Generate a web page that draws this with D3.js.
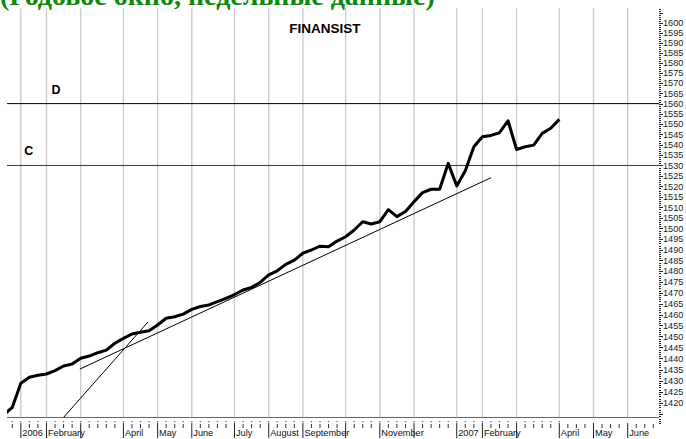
<!DOCTYPE html>
<html>
<head>
<meta charset="utf-8">
<script src="https://cdn.jsdelivr.net/npm/d3@7"></script>
<style>
  body { margin: 0; background: #fff; }
  svg { display: block; }
</style>
</head>
<body>
<svg id="chart"></svg>
<script>
// weekly closes, week 0 = first week shown (late Dec 2005)
var weeks = d3.range(-1, 65);
var closes = [
  1414.7, 1418.1, 1428.8, 1431.5, 1432.4, 1433.0, 1434.5, 1436.6, 1437.5, 1440.1,
  1441.1, 1442.6, 1443.8, 1446.9, 1449.1, 1451.1, 1451.9, 1452.6, 1455.2, 1458.3,
  1459.0, 1460.2, 1462.4, 1463.7, 1464.4, 1465.9, 1467.4, 1469.2, 1471.3, 1472.5,
  1474.8, 1478.3, 1480.2, 1483.2, 1485.2, 1488.4, 1489.9, 1491.7, 1491.4, 1494.1,
  1496.1, 1499.3, 1503.2, 1502.1, 1503.2, 1508.9, 1505.6, 1508.0, 1512.7, 1517.0,
  1518.6, 1518.6, 1531.0, 1520.2, 1527.5, 1539.0, 1543.8, 1544.5, 1545.8, 1551.6,
  1537.7, 1539.0, 1539.8, 1545.5, 1548.0, 1552.3
];

// month starts (week index) and their labels
var monthWeeks = [1, 4, 8, 13, 17, 21, 26, 30, 34, 39, 43, 47, 52, 55, 59, 64, 68, 72];
var monthLabels = ['2006', 'February', 'March', 'April', 'May', 'June', 'July', 'August',
  'September', 'October', 'November', 'December', '2007', 'February', 'March', 'April', 'May', 'June'];

// horizontal levels
var levels = [1560, 1530];
var levelNames = ['D', 'C'];

// trend lines: [week, value] -> [week, value]
var trends = [
  [[7.9, 1435.2], [56.0, 1524.1]],
  [[6.0, 1413.6], [15.9, 1456.7]]
];

var title = '(Годовое окно, недельные данные)';
var chartName = 'FINANSIST';

var width = 686, height = 439;
var plotL = 7, plotR = 659, plotT = 8, plotB = 417;

var svg = d3.select('#chart').attr('width', width).attr('height', height);

var x = d3.scaleLinear().domain([0, 75]).range([12.3, 12.3 + 75 * 8.547]);
var y = d3.scaleLog().domain([1420, 1600]).range([403, 23]);

svg.append('defs').append('clipPath').attr('id', 'plot')
  .append('rect')
  .attr('x', plotL).attr('y', plotT)
  .attr('width', plotR - plotL).attr('height', plotB - plotT);

// month grid
svg.append('g').selectAll('line')
  .data(monthWeeks)
  .join('line')
  .attr('x1', function(d) { return x(d); })
  .attr('x2', function(d) { return x(d); })
  .attr('y1', plotT).attr('y2', plotB)
  .attr('stroke', '#cccccc')
  .attr('stroke-width', 1.4);

// green heading (cut at top edge, as in the source)
svg.append('text')
  .attr('x', 0).attr('y', 5)
  .attr('font-family', '"Liberation Serif", "DejaVu Serif", serif')
  .attr('font-weight', 'bold')
  .attr('font-size', 28)
  .attr('fill', '#0a8a0a')
  .text(title);

svg.append('text')
  .attr('x', 325).attr('y', 33)
  .attr('text-anchor', 'middle')
  .attr('font-family', '"Liberation Sans", Arial, sans-serif')
  .attr('font-weight', 'bold')
  .attr('font-size', 13.5)
  .text(chartName);

// level lines
svg.append('g').selectAll('line')
  .data(levels)
  .join('line')
  .attr('x1', plotL).attr('x2', plotR)
  .attr('y1', function(d) { return y(d); })
  .attr('y2', function(d) { return y(d); })
  .attr('stroke', function(d, i) { return i === 0 ? '#000' : '#333'; })
  .attr('stroke-width', 1);

svg.append('g').selectAll('text')
  .data(levels)
  .join('text')
  .attr('x', function(d, i) { return i === 0 ? x(4.6) : x(1.4); })
  .attr('y', function(d) { return y(d) - 10; })
  .attr('font-family', '"Liberation Sans", Arial, sans-serif')
  .attr('font-weight', 'bold')
  .attr('font-size', 12.5)
  .text(function(d, i) { return levelNames[i]; });

var g = svg.append('g').attr('clip-path', 'url(#plot)');

// trend lines
g.selectAll('line.trend')
  .data(trends)
  .join('line')
  .attr('class', 'trend')
  .attr('x1', function(d) { return x(d[0][0]); })
  .attr('y1', function(d) { return y(d[0][1]); })
  .attr('x2', function(d) { return x(d[1][0]); })
  .attr('y2', function(d) { return y(d[1][1]); })
  .attr('stroke', '#000')
  .attr('stroke-width', 1);

// price line
var line = d3.line()
  .x(function(d, i) { return x(weeks[i]); })
  .y(function(d) { return y(d); });

g.append('path')
  .datum(closes)
  .attr('d', line)
  .attr('fill', 'none')
  .attr('stroke', '#000')
  .attr('stroke-width', 3)
  .attr('stroke-linejoin', 'round');

// x axis line
svg.append('line')
  .attr('x1', plotL).attr('x2', plotR)
  .attr('y1', plotB + 0.5).attr('y2', plotB + 0.5)
  .attr('stroke', '#666');

// blue data dots
svg.append('g').selectAll('rect')
  .data(weeks.filter(function(w) { return w >= 0; }))
  .join('rect')
  .attr('x', function(d) { return x(d) - 0.6; })
  .attr('y', 421)
  .attr('width', 1.2).attr('height', 1.2)
  .attr('fill', '#4a4aff');

// weekly ticks
var allWeeks = d3.range(0, 76);
svg.append('g').selectAll('line')
  .data(allWeeks.filter(function(w) { return monthWeeks.indexOf(w) < 0; }))
  .join('line')
  .attr('x1', function(d) { return x(d); })
  .attr('x2', function(d) { return x(d); })
  .attr('y1', 424).attr('y2', 428)
  .attr('stroke', '#333');

// month separators + labels, skipping labels that would collide
var labelG = svg.append('g')
  .attr('font-family', '"Liberation Sans", Arial, sans-serif')
  .attr('font-size', 9.2)
  .attr('fill', '#111');
var lastEnd = -Infinity;
monthWeeks.forEach(function(w, i) {
  var px = x(w);
  if (px > lastEnd) {
    var t = labelG.append('text')
      .attr('x', px + 1.5).attr('y', 436)
      .text(monthLabels[i]);
    lastEnd = px + 1.5 + t.node().getComputedTextLength();
  }
});
svg.append('g').selectAll('line')
  .data(monthWeeks)
  .join('line')
  .attr('x1', function(d) { return x(d); })
  .attr('x2', function(d) { return x(d); })
  .attr('y1', 423).attr('y2', 438)
  .attr('stroke', '#222');

// price axis on the right
var yTicks = d3.range(1411, 1608);
svg.append('g').selectAll('line')
  .data(yTicks)
  .join('line')
  .attr('x1', plotR)
  .attr('x2', function(d) { return d % 5 === 0 ? plotR + 4 : plotR + 2; })
  .attr('y1', function(d) { return Math.round(y(d)) + 0.5; })
  .attr('y2', function(d) { return Math.round(y(d)) + 0.5; })
  .attr('stroke', '#222')
  .attr('stroke-width', 1);

svg.append('g').selectAll('text')
  .data(d3.range(1420, 1601, 5))
  .join('text')
  .attr('x', plotR + 4)
  .attr('y', function(d) { return y(d); })
  .attr('dy', '0.35em')
  .attr('font-family', '"Liberation Sans", Arial, sans-serif')
  .attr('font-size', 9.2)
  .attr('fill', '#222')
  .text(function(d) { return d; });
</script>
</body>
</html>
